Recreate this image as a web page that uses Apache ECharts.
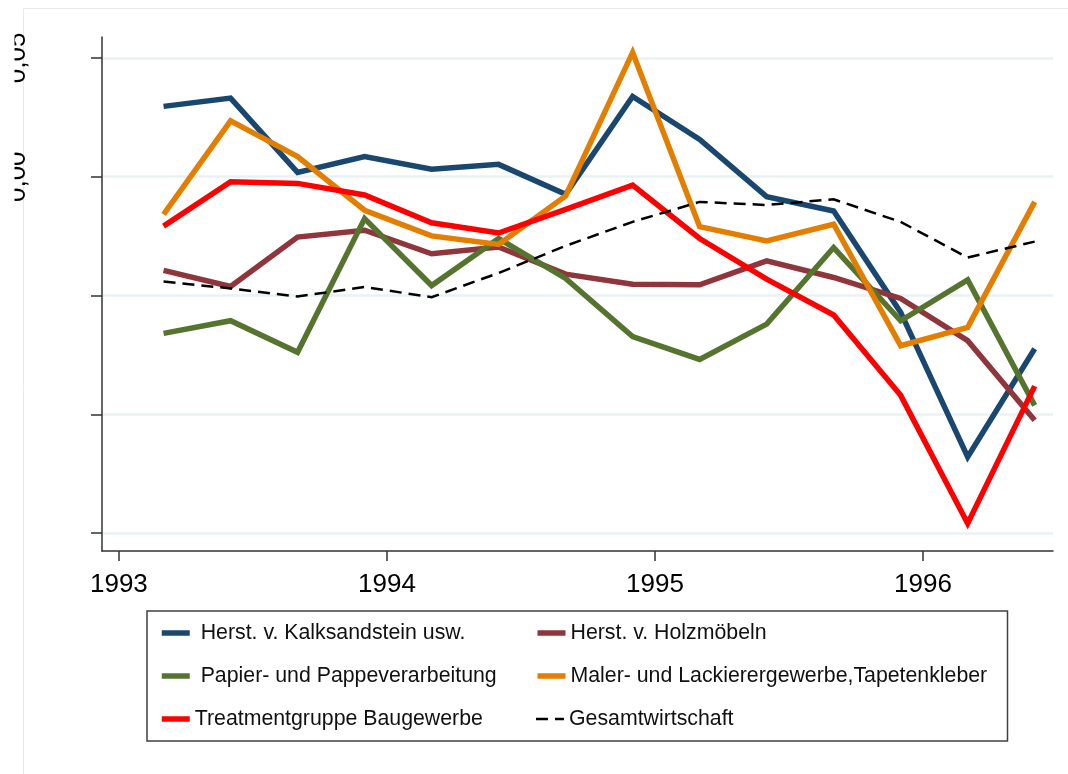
<!DOCTYPE html>
<html>
<head>
<meta charset="utf-8">
<script src="https://cdn.jsdelivr.net/npm/echarts@6/dist/echarts.min.js"></script>
<style>
html, body { margin: 0; padding: 0; background: #fff; }
#chart { width: 1068px; height: 774px; }
</style>
</head>
<body>
<div id="chart"></div>
<script>
// quarters, plotted at the middle month of each quarter
var quarters = ['1993q1', '1993q2', '1993q3', '1993q4', '1994q1', '1994q2', '1994q3',
	'1994q4', '1995q1', '1995q2', '1995q3', '1995q4', '1996q1', '1996q2'];

var kalksandstein = [0.0296, 0.0331, 0.0018, 0.0085, 0.0032, 0.0052, -0.0074,
	0.0338, 0.0157, -0.0084, -0.0144, -0.0571, -0.1179, -0.0724];
var holzmoebel = [-0.0394, -0.0462, -0.0254, -0.0225, -0.0324, -0.0296, -0.0410,
	-0.0452, -0.0455, -0.0354, -0.0424, -0.0512, -0.0690, -0.1025];
var papier = [-0.0659, -0.0606, -0.0739, -0.0176, -0.0458, -0.0260, -0.0428,
	-0.0673, -0.0769, -0.0620, -0.0298, -0.0606, -0.0434, -0.0962];
var maler = [-0.0158, 0.0235, 0.0085, -0.0141, -0.0249, -0.0285, -0.0081,
	0.0523, -0.0210, -0.0270, -0.0200, -0.0711, -0.0634, -0.0106];
var treatment = [-0.0208, -0.0021, -0.0028, -0.0077, -0.0194, -0.0237, -0.0137,
	-0.0035, -0.0260, -0.0431, -0.0582, -0.0920, -0.1459, -0.0881];
var gesamt = [-0.0441, -0.0470, -0.0504, -0.0464, -0.0507, -0.0405, -0.0291,
	-0.0190, -0.0106, -0.0119, -0.0095, -0.0190, -0.0340, -0.0273];

var xTicks = [1993, 1994, 1995, 1996];
var yTicks = [-0.15, -0.10, -0.05, 0.00, 0.05];
var yLabelled = [0.00, 0.05];

var FONT = 'Liberation Sans';

function qToYear(q) {
	var y = +q.slice(0, 4), n = +q.slice(5);
	return y + (3 * n - 1) / 12;
}

function pairs(vals) {
	return quarters.map(function(q, i) { return [qToYear(q), vals[i]]; });
}

function line(name, vals, color, width, dash) {
	return {
		name: name,
		type: 'line',
		data: pairs(vals),
		symbol: 'none',
		animation: false,
		lineStyle: {
			color: color,
			width: width,
			type: dash || 'solid',
			join: 'miter'
		},
		itemStyle: { color: color }
	};
}

var series = [
	line(' Herst. v. Kalksandstein usw.', kalksandstein, '#1a476f', 5.5),
	line('Herst. v. Holzmöbeln', holzmoebel, '#90353b', 5.5),
	line(' Papier- und Pappeverarbeitung', papier, '#55752f', 5.5),
	line('Maler- und Lackierergewerbe,Tapetenkleber', maler, '#e37e00', 5.5),
	line('Treatmentgruppe Baugewerbe', treatment, '#ff0000', 5.5),
	line('Gesamtwirtschaft', gesamt, '#000000', 2.5, [12, 7])
];

var option = {
	backgroundColor: '#ffffff',
	animation: false,
	grid: {
		left: 102,
		right: 15,
		top: 37,
		bottom: 223,
		outerBoundsMode: 'none'
	},
	xAxis: {
		type: 'value',
		min: 1992.937,
		max: 1996.485,
		axisLine: { show: true, onZero: false, lineStyle: { color: '#333', width: 1.5 } },
		axisTick: { show: true, customValues: xTicks, length: 10, lineStyle: { color: '#333', width: 1.5 } },
		axisLabel: {
			customValues: xTicks,
			margin: 21,
			fontFamily: FONT,
			fontSize: 26,
			color: '#000',
			formatter: function(v) { return String(v); }
		},
		splitLine: { show: false }
	},
	yAxis: {
		type: 'value',
		min: -0.1575,
		max: 0.0588,
		axisLine: { show: true, onZero: false, lineStyle: { color: '#333', width: 1.5 } },
		axisTick: { show: true, customValues: yTicks, length: 11, lineStyle: { color: '#333', width: 1.5 } },
		axisLabel: {
			customValues: yLabelled,
			rotate: 90,
			margin: 71,
			fontFamily: FONT,
			fontSize: 26,
			color: '#000',
			formatter: function(v) { return v.toFixed(2).replace('.', ','); }
		},
		splitLine: { show: true, lineStyle: { color: '#eaf1f3', width: 2.5 } }
	},
	legend: {
		left: 147,
		top: 611,
		width: 850,
		orient: 'horizontal',
		padding: [5.5, 11, 5.5, 12],
		itemGap: 10,
		itemWidth: 28,
		itemHeight: 14,
		borderColor: '#404040',
		borderWidth: 1.5,
		backgroundColor: '#fff',
		itemStyle: { opacity: 0 },
		textStyle: {
			fontFamily: FONT,
			fontSize: 21.3,
			color: '#111',
			lineHeight: 33
		},
		data: series.map(function(s, i) {
			return {
				name: s.name,
				lineStyle: { width: s.lineStyle.width },
				textStyle: { width: i % 2 === 0 ? 330 : 426 }
			};
		})
	},
	graphic: [
		{
			type: 'rect',
			silent: true,
			z: 0,
			shape: { x: 23.5, y: 8.5, width: 1100, height: 800 },
			style: { fill: 'none', stroke: '#e8e8e8', lineWidth: 1 }
		},
		{
			type: 'rect',
			silent: true,
			z: 100,
			shape: { x: 0, y: 0, width: 14.5, height: 600 },
			style: { fill: '#ffffff' }
		}
	],
	series: series
};

var myChart = echarts.init(document.getElementById('chart'), null, { renderer: 'canvas' });
myChart.setOption(option);
</script>
</body>
</html>
